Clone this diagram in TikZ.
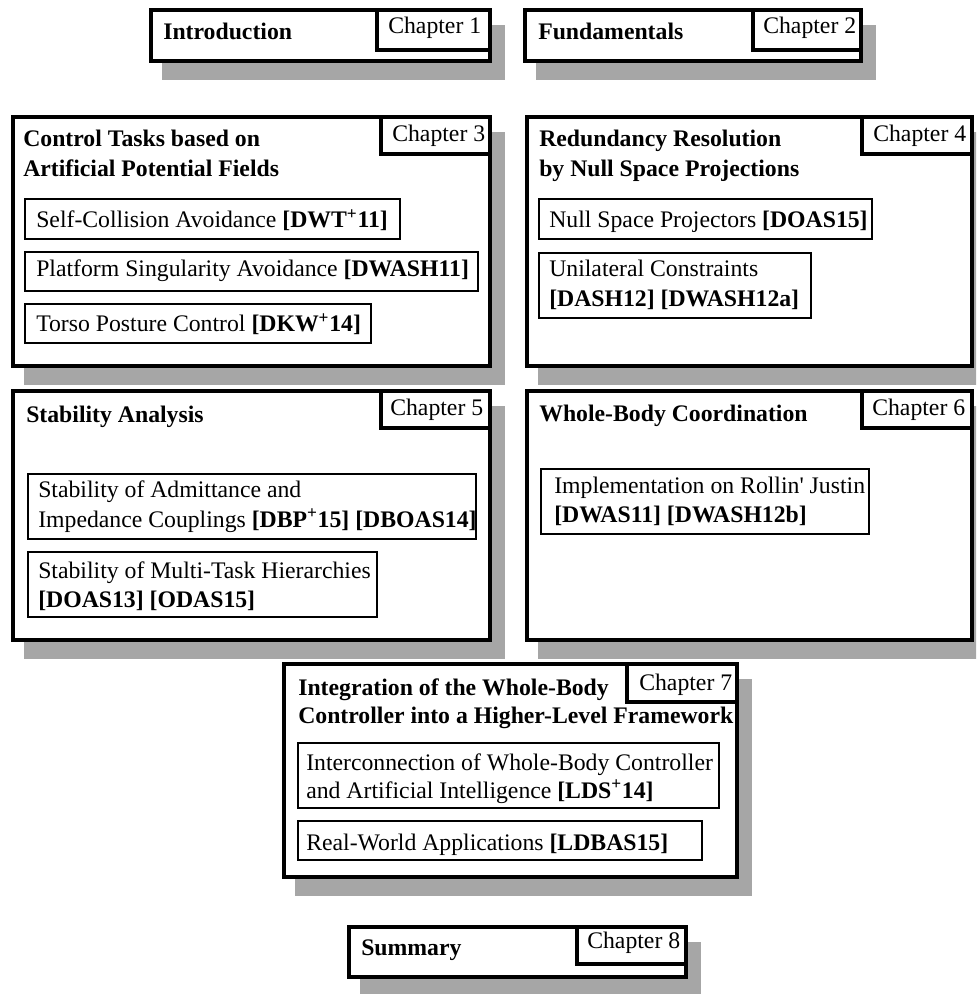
\documentclass[tikz,border=0pt]{standalone}
\usepackage{fontspec}
\setmainfont{Liberation Serif}
\definecolor{shadowgray}{RGB}{166,166,166}
% one chapter frame: shadow first, then the white frame on top
\newcommand\chapframe[4]{%
  \fill[shadowgray] (#1+11,#2+15) rectangle (#3+15,#4+19);
  \draw[frame] (#1,#2) rectangle (#3,#4);}
\newcommand\plus{\textsuperscript{\fontsize{13}{13}\selectfont +}}
\begin{document}
\begin{tikzpicture}[x=0.75pt,y=-0.75pt,
  frame/.style={draw=black,fill=white,line width=3.5pt},
  tag/.style={draw=black,fill=white,line width=3.5pt},
  entry/.style={draw=black,line width=0.8pt},
  txt/.style={inner sep=0pt,anchor=base west,font=\fontsize{17.8}{22}\selectfont},
  head/.style={txt,font=\fontsize{17.8}{22}\selectfont\bfseries}]
\useasboundingbox (0,0) rectangle (976,994);
\clip (0,0) rectangle (976,994);

% Chapter 1
\chapframe{151}{10}{490}{61}
\draw[tag] (377,10) rectangle (490,50);
\node[head] (intro) at (163,40) {Introduction};
\node[txt] (c1) at (388,34) {Chapter 1};

% Chapter 2
\chapframe{525}{10}{861}{61}
\draw[tag] (753,10) rectangle (861,50);
\node[head] (fund) at (538,40) {Fundamentals};
\node[txt] (c2) at (763,34) {Chapter 2};

% Chapter 3
\chapframe{13}{117}{490}{366}
\draw[tag] (381,117) rectangle (490,154);
\node[txt] (c3) at (392,142) {Chapter 3};
\node[head] (t3a) at (23,147) {Control Tasks based on};
\node[head] (t3b) at (23,177) {Artificial Potential Fields};
\draw[entry] (25,199) rectangle (400,239);
\node[txt] (e31) at (36,228) {Self-Collision Avoidance \textbf{[DWT\plus11]}};
\draw[entry] (25,252) rectangle (478,291);
\node[txt] (e32) at (36,277) {Platform Singularity Avoidance \textbf{[DWASH11]}};
\draw[entry] (25,304) rectangle (371,343);
\node[txt] (e33) at (36,332) {Torso Posture Control \textbf{[DKW\plus14]}};

% Chapter 4
\chapframe{527}{117}{972}{366}
\draw[tag] (862,117) rectangle (972,154);
\node[txt] (c4) at (873,142) {Chapter 4};
\node[head] (t4a) at (539,147) {Redundancy Resolution};
\node[head] (t4b) at (539,177) {by Null Space Projections};
\draw[entry] (539,199) rectangle (872,239);
\node[txt] (e41) at (549,228) {Null Space Projectors \textbf{[DOAS15]}};
\draw[entry] (539,253) rectangle (811,318);
\node[txt] (e42a) at (549,277) {Unilateral Constraints};
\node[txt] (e42b) at (549,307) {\textbf{[DASH12] [DWASH12a]}};

% Chapter 5
\chapframe{13}{391}{490}{640}
\draw[tag] (381,391) rectangle (490,428);
\node[txt] (c5) at (390,415) {Chapter 5};
\node[head] (t5) at (26,422) {Stability Analysis};
\draw[entry] (28,474) rectangle (476,539);
\node[txt] (e51a) at (38,497) {Stability of Admittance and};
\node[txt] (e51b) at (38,527) {Impedance Couplings \textbf{[DBP\plus15] [DBOAS14]}};
\draw[entry] (28,552) rectangle (377,617);
\node[txt] (e52a) at (38,578) {Stability of Multi-Task Hierarchies};
\node[txt] (e52b) at (38,607) {\textbf{[DOAS13] [ODAS15]}};

% Chapter 6
\chapframe{527}{391}{972}{640}
\draw[tag] (862,391) rectangle (972,428);
\node[txt] (c6) at (872,415) {Chapter 6};
\node[head] (t6) at (539,421) {Whole-Body Coordination};
\draw[entry] (541,469) rectangle (869,534);
\node[txt] (e61a) at (554,493) {Implementation on Rollin\textquotesingle{} Justin};
\node[txt] (e61b) at (554,522) {\textbf{[DWAS11] [DWASH12b]}};

% Chapter 7
\chapframe{284}{664}{737}{877}
\draw[tag] (627,664) rectangle (737,702);
\node[txt] (c7) at (639,690) {Chapter 7};
\node[head] (t7a) at (298,695) {Integration of the Whole-Body};
\node[head] (t7b) at (298,723) {Controller into a Higher-Level Framework};
\draw[entry] (298,743) rectangle (719,808);
\node[txt] (e71a) at (306,770) {Interconnection of Whole-Body Controller};
\node[txt] (e71b) at (306,798) {and Artificial Intelligence \textbf{[LDS\plus14]}};
\draw[entry] (298,821) rectangle (702,860);
\node[txt] (e72) at (306,850) {Real-World Applications \textbf{[LDBAS15]}};

% Chapter 8
\chapframe{349}{927}{686}{977}
\draw[tag] (577,927) rectangle (686,964);
\node[head] (summ) at (361,955) {Summary};
\node[txt] (c8) at (587,948) {Chapter 8};
\end{tikzpicture}
\end{document}
